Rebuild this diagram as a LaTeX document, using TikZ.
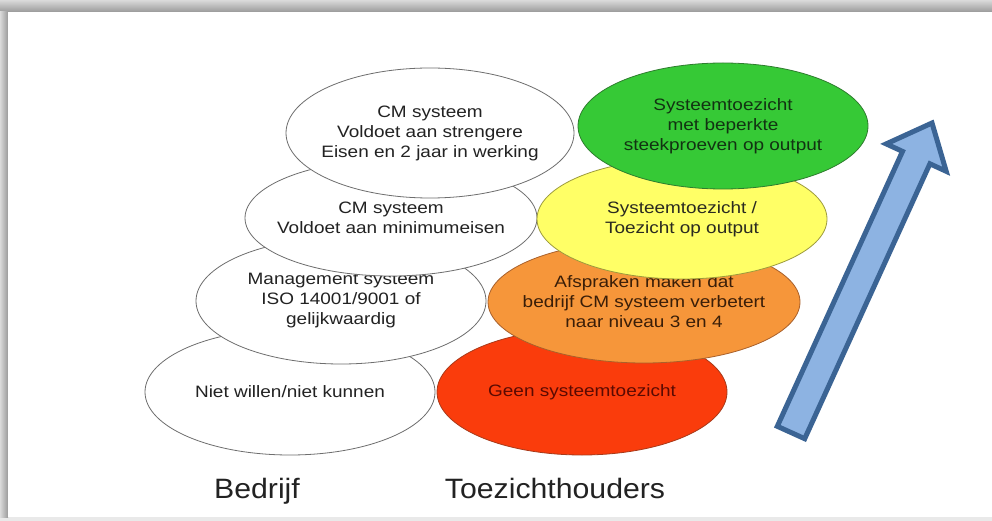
\documentclass[tikz,border=0pt]{standalone}
\usepackage{fontspec}
\setmainfont{Liberation Sans}
\newfontfamily\elfont[FakeStretch=1.15]{Liberation Sans}
\newfontfamily\lbfont[FakeStretch=1.08]{Liberation Sans}
\usetikzlibrary{shapes.geometric}
\definecolor{edgegray}{HTML}{6E6E6E}
\definecolor{txtdark}{HTML}{222222}
\definecolor{grfill}{HTML}{36C936}
\definecolor{grdraw}{HTML}{2E7D2E}
\definecolor{grtext}{HTML}{123312}
\definecolor{ylfill}{HTML}{FFFF66}
\definecolor{yldraw}{HTML}{9C9A3C}
\definecolor{yltext}{HTML}{2A2A20}
\definecolor{orfill}{HTML}{F6963A}
\definecolor{ordraw}{HTML}{A9602A}
\definecolor{ortext}{HTML}{3A1E08}
\definecolor{rdfill}{HTML}{FA3C0C}
\definecolor{rddraw}{HTML}{A83A1A}
\definecolor{rdtext}{HTML}{5A0A02}
\definecolor{arfill}{HTML}{8DB3E2}
\definecolor{ardraw}{HTML}{3B6494}
\definecolor{shlight}{HTML}{DADADA}
\definecolor{shdark}{HTML}{9A9A9A}
\begin{document}
\begin{tikzpicture}[x=1pt,y=-1pt,
  wellipse/.style={ellipse, draw=edgegray, fill=white, line width=0.8pt,
    inner xsep=-150pt, inner ysep=-80pt, minimum width=290pt, minimum height=126pt, align=center,
    text=txtdark, font=\elfont\fontsize{16.5}{20}\selectfont},
  cellipse/.style={wellipse, fill=#1},
  lbl/.style={anchor=base, inner sep=0pt, text=txtdark,
    font=\lbfont\fontsize{28}{32}\selectfont}]
\useasboundingbox (0,0) rectangle (992,521);
% frame
\fill[white] (0,0) rectangle (992,521);
\fill[shlight!60!white] (0,517) rectangle (992,521);
\shade[top color=shlight, bottom color=shdark] (0,0) rectangle (992,12);
\shade[left color=shlight, right color=shdark] (0,12) rectangle (8,517);
\fill[white] (8,12) rectangle (992,517);
% white ellipses (Bedrijf), bottom to top
\node[wellipse] (niet) at (290,392) {Niet willen/niet kunnen};
\node[wellipse] (mgmt) at (341,301) {Management systeem\\ISO 14001/9001 of\\gelijkwaardig};
\node[wellipse, minimum width=292pt, minimum height=116pt] (cmmin) at (391,218) {CM systeem\\Voldoet aan minimumeisen};
\node[wellipse, minimum width=288pt, minimum height=130pt] (cmstr) at (430,133) {CM systeem\\Voldoet aan strengere\\Eisen en 2 jaar in werking};
% coloured ellipses (Toezichthouders), bottom to top
\node[cellipse=rdfill, draw=rddraw, text=rdtext] (geen) at (582,392) {Geen systeemtoezicht};
\node[cellipse=orfill, draw=ordraw, text=ortext, minimum width=312pt, minimum height=122pt] (afspr) at (644,302) {Afspraken maken dat\\bedrijf CM systeem verbetert\\naar niveau 3 en 4};
\node[cellipse=ylfill, draw=yldraw, text=yltext, minimum height=120pt] (systo) at (682,219) {Systeemtoezicht /\\Toezicht op output};
\node[cellipse=grfill, draw=grdraw, text=grtext] (sysbep) at (723,126) {Systeemtoezicht\\met beperkte\\steekproeven op output};
% column labels
\node[lbl] (bedrijf) at (257,498) {Bedrijf};
\node[lbl] (toez) at (555,498) {Toezichthouders};
% block arrow
\draw[fill=arfill, draw=ardraw, line width=5pt, line join=miter]
  (777.3,426.3) -- (902.5,151.4) -- (886.2,143.9) -- (932,123)
  -- (946.2,171.3) -- (929.9,163.8) -- (804.7,438.7) -- cycle;
\end{tikzpicture}
\end{document}
